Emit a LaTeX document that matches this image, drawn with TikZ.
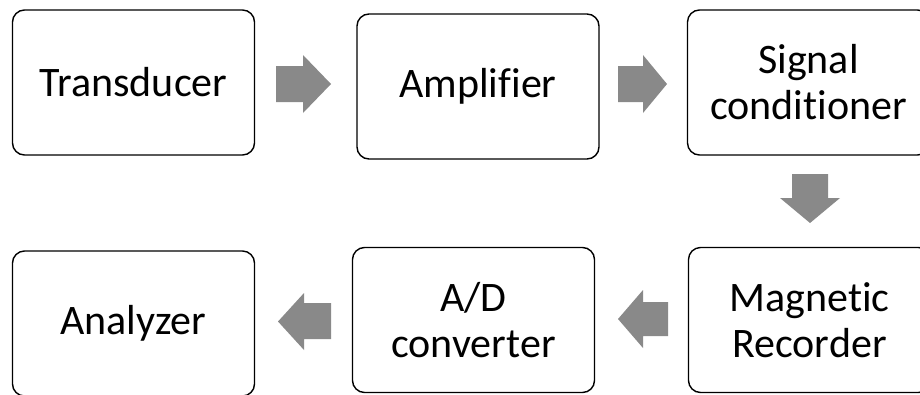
\documentclass[tikz,border=0pt]{standalone}
\usepackage{fontspec}
\setmainfont[Ligatures=NoCommon]{Carlito}
\definecolor{arrowgray}{RGB}{137,137,137}
\tikzset{
  stage/.style={draw=black, line width=1.4pt, rounded corners=12pt, fill=white,
    minimum width=242pt, minimum height=145pt, align=center, inner sep=0pt,
    font=\fontsize{42}{46}\selectfont},
  flow/.style={fill=arrowgray, draw=none},
}
\begin{document}
\begin{tikzpicture}[x=1pt,y=-1pt]
  \useasboundingbox (0,0) rectangle (920,394);
  \clip (0,0) rectangle (920,394);
  % top row
  \node[stage] (trans) at (133.5,82.5) {Transducer};
  \node[stage] (amp) at (478,86.5) {Amplifier};
  \node[stage] (sig) at (808.5,82.5) {Signal\\conditioner};
  % bottom row
  \node[stage] (mag) at (809.5,320) {Magnetic\\Recorder};
  \node[stage] (adc) at (473.5,320) {A/D\\converter};
  \node[stage] (ana) at (133.5,323.5) {Analyzer};
  % block arrows between stages
  \fill[flow] (276,66) -- (303,66) -- (303,55) -- (331,84) -- (303,113) -- (303,102) -- (276,102) -- cycle;
  \fill[flow] (618,66) -- (643,66) -- (643,55) -- (667,84) -- (643,113) -- (643,102) -- (618,102) -- cycle;
  \fill[flow] (792,174) -- (828,174) -- (828,198) -- (840,198) -- (810,223) -- (780,198) -- (792,198) -- cycle;
  \fill[flow] (668,302) -- (643,302) -- (643,290) -- (618,319) -- (643,348) -- (643,336) -- (668,336) -- cycle;
  \fill[flow] (331,303) -- (304,303) -- (304,293) -- (278,321.5) -- (304,350) -- (304,339) -- (331,339) -- cycle;
\end{tikzpicture}
\end{document}
